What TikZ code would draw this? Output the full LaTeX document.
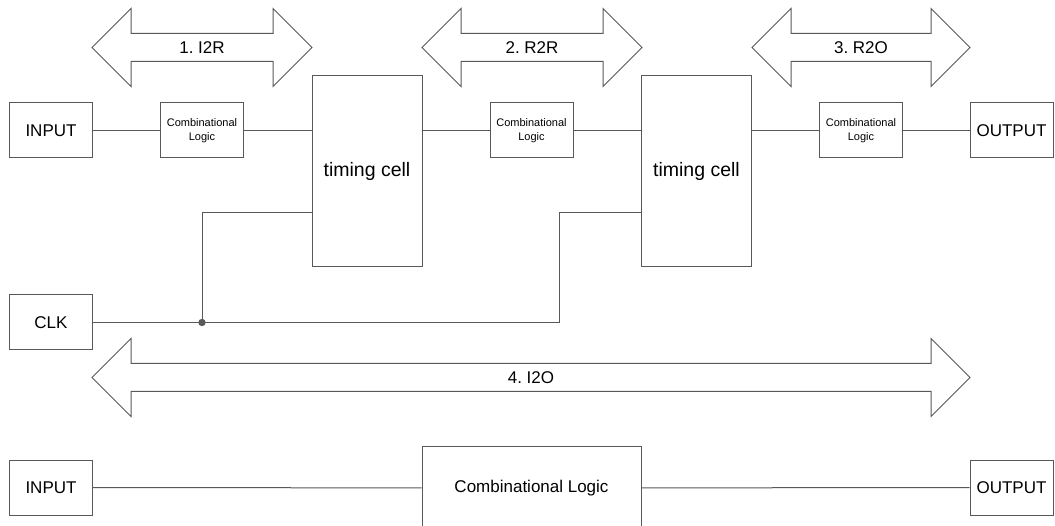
\documentclass[tikz,border=0pt]{standalone}
\usepackage{fontspec}
\setmainfont{Liberation Sans}
\frenchspacing
\usetikzlibrary{shapes.arrows}
\definecolor{linegray}{RGB}{89,89,89}
\tikzset{
  box/.style={draw=linegray,line width=1pt,inner sep=0pt,minimum width=83pt,minimum height=55pt,font=\fontsize{17}{20}\selectfont},
  logic/.style={box,align=center,font=\fontsize{11}{14}\selectfont},
  cell/.style={box,minimum width=110pt,minimum height=191pt,font=\fontsize{19.5}{22}\selectfont},
  span/.style={double arrow,draw=linegray,line width=1pt,double arrow head extend=25pt,double arrow tip angle=90,inner xsep=0pt,inner ysep=7.5pt,text height=12pt,text depth=0pt,font=\fontsize{17}{20}\selectfont},
  net/.style={draw=linegray,line width=1pt}
}
\begin{document}
\begin{tikzpicture}[x=1pt,y=-1pt]
\clip (0,0) rectangle (1055,526);
% upper path
\node[box] (in1) at (51,130.5) {INPUT};
\node[logic] (logic1) at (202,130.5) {Combinational\\Logic};
\node[cell] (cell1) at (367,171.5) {timing cell};
\node[logic] (logic2) at (531.5,130.5) {Combinational\\Logic};
\node[cell] (cell2) at (696.5,171.5) {timing cell};
\node[logic] (logic3) at (861,130.5) {Combinational\\Logic};
\node[box] (out1) at (1011.5,130.5) {OUTPUT};
\node[box] (clk) at (51,322.5) {CLK};
\draw[net] (in1) -- (logic1);
\draw[net] (logic1.east) -- (logic1.east -| cell1.west);
\draw[net] (logic2.west -| cell1.east) -- (logic2.west);
\draw[net] (logic2.east) -- (logic2.east -| cell2.west);
\draw[net] (logic3.west -| cell2.east) -- (logic3.west);
\draw[net] (logic3) -- (out1);
% clock
\coordinate (ck1) at (cell1.west |- 0,213);
\coordinate (ck2) at (cell2.west |- 0,213);
\coordinate (j1) at (202,322.5);
\coordinate (j2) at (559,322.5);
\draw[net] (clk.east) -- (j2) |- (ck2);
\draw[net] (j1) |- (ck1);
\fill[linegray] (j1) circle (3.7);
% timing paths
\node[span,minimum height=220pt] (a1) at (202,47.5) {1. I2R};
\node[span,minimum height=220pt] (a2) at (532,47.5) {2. R2R};
\node[span,minimum height=218pt] (a3) at (861,47.5) {3. R2O};
\node[span,minimum height=878pt] (a4) at (531,377.5) {4. I2O};
% lower path
\node[box] (in2) at (51,487.5) {INPUT};
\node[box,minimum width=219pt,minimum height=84pt] (logic4) at (531.5,488) {Combinational Logic};
\node[box] (out2) at (1011.5,487.5) {OUTPUT};
\draw[net] (in2) -- (logic4);
\draw[net] (logic4) -- (out2);
\end{tikzpicture}
\end{document}
